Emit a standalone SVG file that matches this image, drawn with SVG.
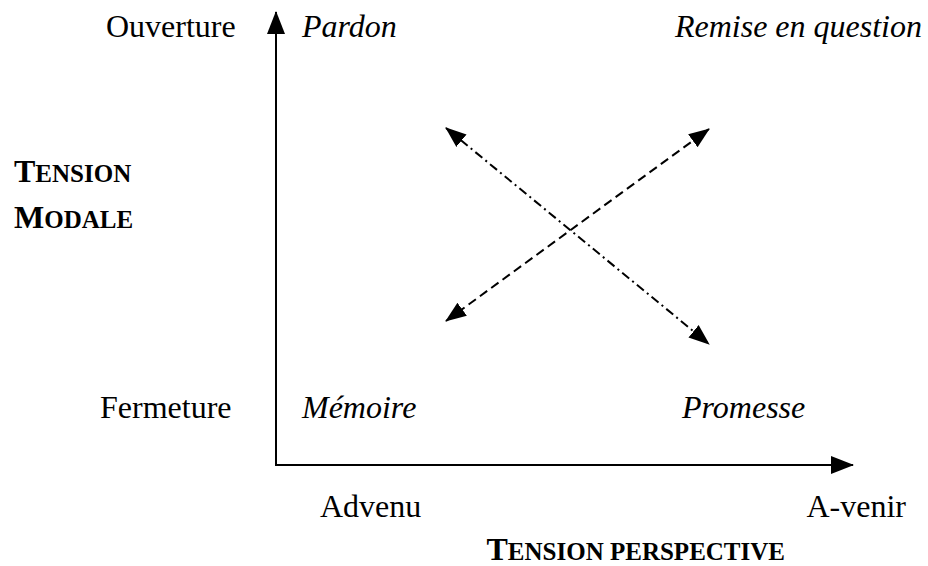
<svg xmlns="http://www.w3.org/2000/svg" width="928" height="566" viewBox="0 0 928 566">
<style>
text{font-family:"Liberation Serif",Tinos,"Times New Roman",Times,"DejaVu Serif",serif;font-size:32px;fill:#000}
.i{font-style:italic}
.b{font-weight:bold}
.sc{font-size:25px}
.ax{fill:none;stroke:#000;stroke-width:2}
.dd{fill:none;stroke:#000;stroke-width:2;stroke-dasharray:9 4 2 4}
.da{fill:none;stroke:#000;stroke-width:2;stroke-dasharray:9 5}
</style>
<defs>
<marker id="ah" markerUnits="userSpaceOnUse" markerWidth="24" markerHeight="20" viewBox="0 0 24 20" refX="22" refY="10" orient="auto-start-reverse">
<path d="M0,1 L23,10 L0,19 Z" fill="#000"/>
</marker>
<marker id="dh" markerUnits="userSpaceOnUse" markerWidth="22" markerHeight="18" viewBox="0 0 22 18" refX="20" refY="9" orient="auto-start-reverse">
<path d="M0,1 L21,9 L0,17 Z" fill="#000"/>
</marker>
</defs>
<g id="connectors">
<path id="axes" class="ax" d="M276,12 V465 H853" marker-start="url(#ah)" marker-end="url(#ah)"/>
<line id="diag1" class="dd" x1="446" y1="128" x2="709" y2="344" marker-start="url(#dh)" marker-end="url(#dh)"/>
<line id="diag2" class="da" x1="446" y1="321" x2="709" y2="129" marker-start="url(#dh)" marker-end="url(#dh)"/>
</g>
<g id="ouverture"><text font-family="Liberation Serif, serif" x="106" y="37">Ouverture</text></g>
<g id="pardon"><text class="i" x="302" y="37">Pardon</text></g>
<g id="remise"><text class="i" x="922" y="37" text-anchor="end">Remise en question</text></g>
<g id="tension-modale">
<text class="b" x="14" y="182">T<tspan class="sc">ENSION</tspan></text>
<text class="b" x="14" y="228">M<tspan class="sc">ODALE</tspan></text>
</g>
<g id="fermeture"><text x="100" y="418">Fermeture</text></g>
<g id="memoire"><text class="i" x="302" y="418">Mémoire</text></g>
<g id="promesse"><text class="i" x="682" y="418">Promesse</text></g>
<g id="advenu"><text x="320" y="517">Advenu</text></g>
<g id="avenir"><text x="906" y="517" text-anchor="end">A-venir</text></g>
<g id="tension-perspective"><text class="b" x="785" y="560" text-anchor="end">T<tspan class="sc">ENSION PERSPECTIVE</tspan></text></g>
</svg>
